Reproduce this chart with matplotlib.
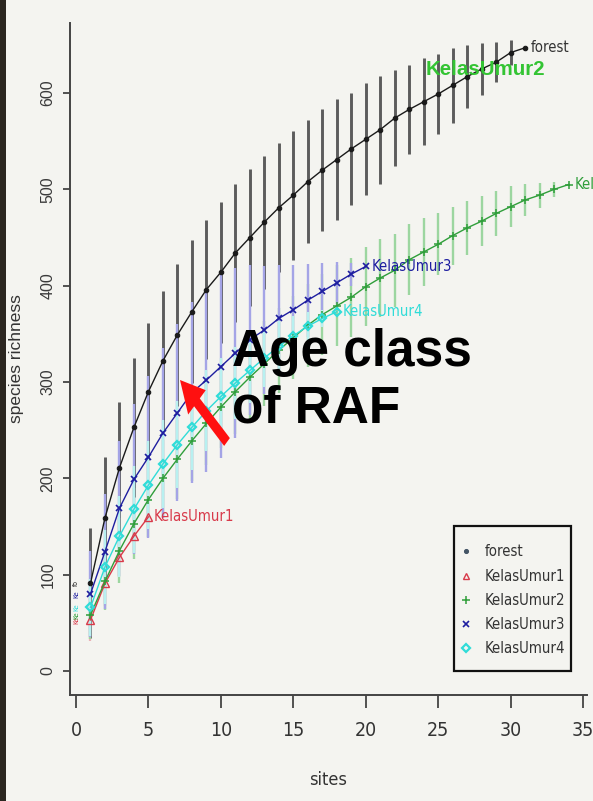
import matplotlib
matplotlib.use("Agg")
import matplotlib.pyplot as plt
from matplotlib import font_manager as fm
from matplotlib.patches import Rectangle, FancyArrow
import numpy as np

# ---------------- data ----------------
forest_mean = [91, 159, 211, 253, 290, 322, 349, 373, 396, 414, 434, 450, 466, 481, 494, 508,
               520, 531, 542, 552, 562, 574, 583, 591, 599, 608, 617, 625, 632, 642, 647]
forest_sd = [57, 63, 68, 72, 71, 72, 74, 74, 72, 73, 72, 71, 69, 67, 67, 64,
             63, 63, 58, 58, 56, 50, 46, 45, 42, 39, 33, 27, 21, 13, 0]
ku1_mean = [53, 91, 118, 140, 160]
ku1_sd = [22, 24, 20, 14, 0]
ku2_mean = [58, 93, 125, 153, 178, 200, 220, 239, 257, 274, 290, 305, 319, 333, 346, 359, 370,
            379, 388, 399, 408, 416, 427, 435, 443, 452, 460, 467, 475, 482, 489, 494, 500, 505]
ku2_sd = [25, 30, 34, 37, 39, 40, 41, 42, 43, 43, 44, 44, 44, 44, 43, 43, 42,
          42, 41, 41, 40, 38, 37, 35, 32, 30, 28, 26, 23, 21, 17, 13, 8, 0]
ku3_mean = [80, 124, 169, 199, 222, 247, 268, 289, 302, 316, 330, 344, 354, 366, 375, 385, 394,
            403, 412, 420]
ku3_sd = [45, 60, 70, 78, 84, 88, 92, 94, 95, 95, 88, 78, 66, 56, 46, 38, 30, 22, 12, 0]
ku4_mean = [66, 108, 140, 168, 193, 215, 235, 253, 270, 285, 299, 312, 325, 337, 348, 358, 366, 373]
ku4_sd = [30, 38, 42, 45, 46, 46, 45, 44, 42, 40, 37, 34, 30, 26, 21, 15, 9, 0]

series_names = ["forest", "KelasUmur1", "KelasUmur2", "KelasUmur3", "KelasUmur4"]
x_ticks = [0, 5, 10, 15, 20, 25, 30, 35]
y_ticks = [0, 100, 200, 300, 400, 500, 600]
x_label = "sites"
y_label = "species richness"
overlay_text = "Age class\nof RAF"
overlay_green = "KelasUmur2"

# ---------------- fonts ----------------
def pick_narrow():
    narrow = None
    cond = None
    for f in fm.fontManager.ttflist:
        if f.name == "Liberation Sans Narrow" and f.style == "normal" and f.weight in (400, "normal", "regular"):
            narrow = f.fname
        if f.name == "DejaVu Sans" and str(f.stretch) in ("condensed", "semi-condensed") \
                and f.style == "normal" and f.weight in (400, "normal", "book"):
            cond = f.fname
    return narrow or cond

narrow_path = pick_narrow()

def nfont(size):
    if narrow_path:
        return fm.FontProperties(fname=narrow_path, size=size)
    return fm.FontProperties(family="Liberation Sans", size=size * 0.85)

def rfont(size):
    return fm.FontProperties(family="Liberation Sans", size=size)

# ---------------- figure ----------------
W, H = 593, 801
bg = "#f4f4f0"
fig = plt.figure(figsize=(W / 100, H / 100), dpi=100, facecolor=bg)
# dark slide border on the left
fig.patches.append(Rectangle((0, 0), 6 / W, 1, transform=fig.transFigure,
                             facecolor="#2b2620", edgecolor="none", zorder=0))

ax_l, ax_r, ax_t, ax_b = 70, 587, 23, 695
ax = fig.add_axes([ax_l / W, 1 - ax_b / H, (ax_r - ax_l) / W, (ax_b - ax_t) / H])
ax.set_facecolor(bg)

def axfrac(px, py):
    return ((px - ax_l) / (ax_r - ax_l), (ax_b - py) / (ax_b - ax_t))

styles = {
    "forest":     dict(c="#1a1a1a", bar="#5c5c5c", m="o", ms=3.2, mfc="#1a1a1a", mew=0.8, blw=2.1),
    "KelasUmur1": dict(c="#d83a4a", bar="#eab0b6", m="^", ms=5.5, mfc="none", mew=1.0, blw=1.6),
    "KelasUmur2": dict(c="#2f9e3a", bar="#9cd6a0", m="+", ms=6, mfc="none", mew=1.1, blw=1.7),
    "KelasUmur3": dict(c="#1e1ea0", bar="#a4a4e6", m="x", ms=4.5, mfc="none", mew=1.2, blw=1.7),
    "KelasUmur4": dict(c="#30dcd8", bar="#b8f0f0", m="D", ms=4.5, mfc="none", mew=1.6, blw=1.7),
}
data = {
    "forest": (forest_mean, forest_sd),
    "KelasUmur1": (ku1_mean, ku1_sd),
    "KelasUmur2": (ku2_mean, ku2_sd),
    "KelasUmur3": (ku3_mean, ku3_sd),
    "KelasUmur4": (ku4_mean, ku4_sd),
}

# error bars first
for name in series_names:
    mean, sd = np.array(data[name][0]), np.array(data[name][1])
    sites = np.arange(1, len(mean) + 1)
    st = styles[name]
    ax.vlines(sites, mean - sd, mean + sd, colors=st["bar"], linewidth=st["blw"], zorder=2)

# lines, markers, end labels
for name in series_names:
    mean = np.array(data[name][0])
    sites = np.arange(1, len(mean) + 1)
    st = styles[name]
    ax.plot(sites, mean, color=st["c"], linewidth=1.0, marker=st["m"], markersize=st["ms"],
            markerfacecolor=st["mfc"], markeredgecolor=st["c"], markeredgewidth=st["mew"],
            zorder=4, clip_on=False)
    ax.annotate(name, (sites[-1], mean[-1]), xytext=(4, 0), textcoords="offset points",
                va="center", ha="left", color=st["c"] if name != "forest" else "#333333",
                fontproperties=nfont(10.7), zorder=5, annotation_clip=False)
    # tiny labels stacked at the start of the curves
    ax.text(0, mean[0], name[:2], rotation=90, color=st["c"], fontproperties=nfont(5.0),
            ha="center", va="center", zorder=5)

ax.set_xlim(-0.414, 35.27)
ax.set_ylim(-24.9, 672.7)
ax.set_xticks(x_ticks)
ax.set_yticks(y_ticks)
ax.set_xticklabels([str(v) for v in x_ticks])
ax.set_yticklabels([str(v) for v in y_ticks], rotation=90, va="center")
for lab in ax.get_xticklabels():
    lab.set_fontproperties(nfont(14))
    lab.set_color("#333333")
for lab in ax.get_yticklabels():
    lab.set_fontproperties(rfont(11.5))
    lab.set_color("#3a3a3a")
ax.tick_params(axis="x", direction="out", length=9, width=1.3, color="#444444", pad=10)
ax.tick_params(axis="y", direction="out", length=5, width=1.3, color="#444444", pad=5.5)
for s in ("top", "right"):
    ax.spines[s].set_visible(False)
for s in ("left", "bottom"):
    ax.spines[s].set_color("#444444")
    ax.spines[s].set_linewidth(1.4)

ax.set_xlabel(x_label, fontproperties=nfont(13), color="#333333", labelpad=22)
ax.set_ylabel(y_label, fontproperties=rfont(12.5), color="#333333", labelpad=12)

# legend (frame drawn as a box, entries placed inside it)
bx0, by0 = axfrac(454, 671)
bx1, by1 = axfrac(571, 526)
ax.add_patch(Rectangle((bx0, by0), bx1 - bx0, by1 - by0, transform=ax.transAxes,
                       facecolor=bg, edgecolor="#111111", linewidth=1.6, zorder=6))
handles = []
for name in series_names:
    st = styles[name]
    h, = ax.plot([], [], linestyle="none", marker=st["m"], markersize=st["ms"] * 0.9,
                 markerfacecolor=st["mfc"] if name != "forest" else "#445566",
                 markeredgecolor=st["c"] if name != "forest" else "#445566",
                 markeredgewidth=st["mew"])
    handles.append(h)
leg = ax.legend(handles, series_names, loc="upper left",
                bbox_to_anchor=axfrac(462, 544.5),
                borderaxespad=0, prop=nfont(10.7), frameon=False,
                handlelength=0.5, handletextpad=1.0, labelspacing=0.62,
                borderpad=0)
leg.set_zorder(7)
for t in leg.get_texts():
    t.set_color("#333333")

# slide overlay annotations
fig.text(232 / W, 1 - 423 / H, overlay_text, fontsize=37, fontweight="bold",
         family="Liberation Sans", color="black", va="baseline", ha="left",
         linespacing=1.22, zorder=10)
fig.text(426 / W, 1 - 75 / H, overlay_green, fontsize=14.8, fontweight="bold",
         family="Liberation Sans", color="#33c433", va="baseline", ha="left", zorder=10)
arrow = FancyArrow(227 / W, 1 - 442 / H, (180 - 227) / W, -(380 - 442) / H,
                   width=11 / H, head_width=34 / H, head_length=32 / H,
                   length_includes_head=True, transform=fig.transFigure,
                   facecolor="#ff1010", edgecolor="none", zorder=10)
fig.patches.append(arrow)

fig.savefig("out.png", dpi=100, facecolor=bg)
